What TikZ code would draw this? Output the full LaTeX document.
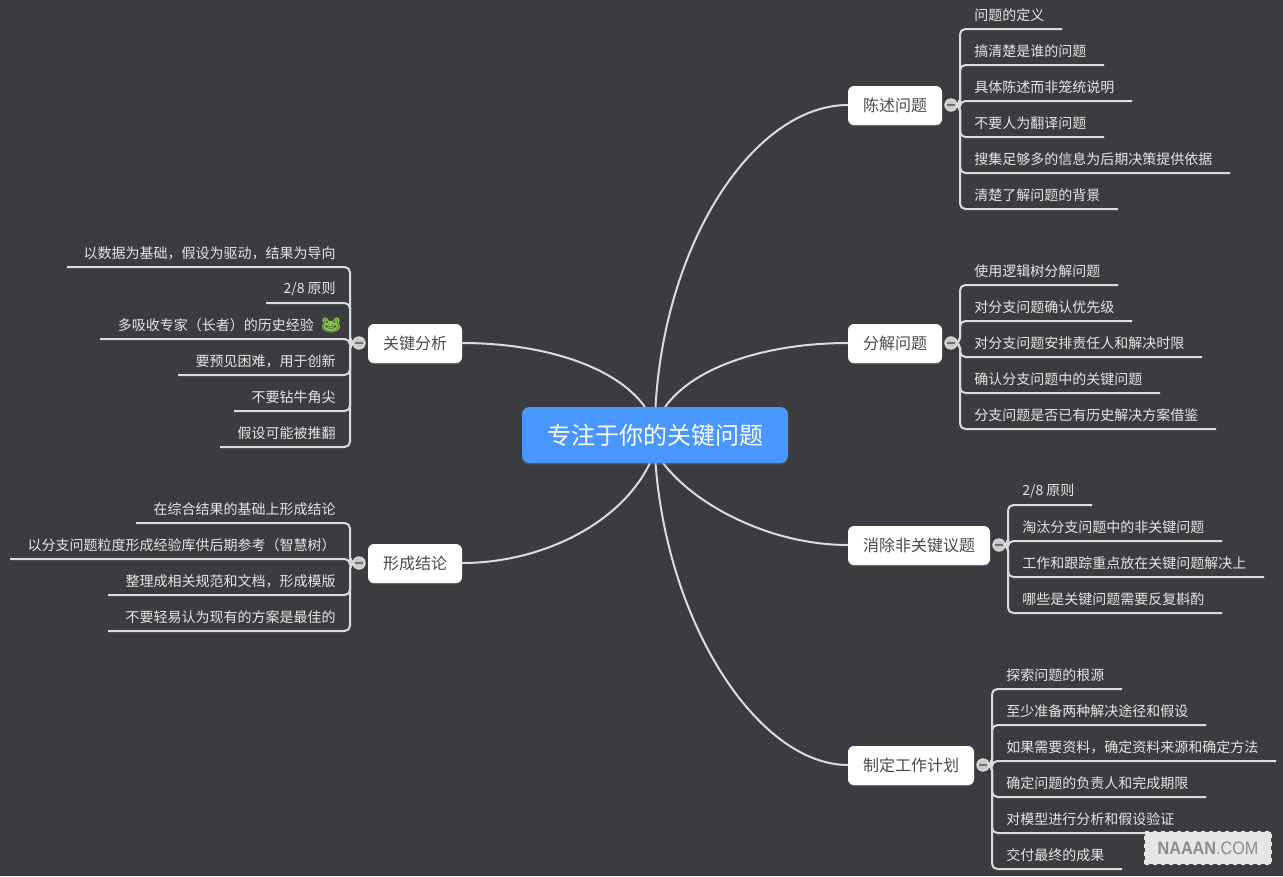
\documentclass[tikz,border=0pt]{standalone}
\usepackage{fontspec}
\setmainfont{Noto Sans CJK SC}
\newfontfamily\emojifont{Noto Emoji}
\newfontfamily\markfont{Liberation Sans}
\usetikzlibrary{shadows,calc}
\pgfdeclarelayer{hubs}
\pgfsetlayers{main,hubs}
\definecolor{bgcol}{HTML}{3A3C3F}
\definecolor{rootcol}{HTML}{4A96FF}
\definecolor{linkcol}{HTML}{DCDCDC}
\definecolor{leafcol}{HTML}{E6E6E6}
\definecolor{maincol}{HTML}{4A4A4A}
\definecolor{frogcol}{HTML}{8CC152}
\definecolor{frogdark}{HTML}{2F4A22}
\definecolor{hubfill}{HTML}{C9C9C9}
\definecolor{hubbar}{HTML}{707070}
\tikzset{
  x=0.75pt,y=-0.75pt,
  rootnode/.style={draw=none,fill=rootcol,rounded corners=5.6pt,minimum width=199.5pt,minimum height=42pt,text=white,font=\fontsize{18}{22}\selectfont,inner sep=0pt,drop shadow={shadow xshift=0pt,shadow yshift=-1.2pt,opacity=.35}},
  mainnode/.style={fill=white,rounded corners=4.5pt,minimum height=29.25pt,text=maincol,font=\fontsize{12}{15}\selectfont,inner sep=0pt,drop shadow={shadow xshift=0pt,shadow yshift=-1pt,opacity=.35}},
  hubnode/.style={circle,fill=hubfill,draw=linkcol,line width=1pt,minimum size=9pt,inner sep=0pt,font=\fontsize{1}{1}\selectfont},
  leafnode/.style={text=leafcol,inner sep=0pt,font=\fontsize{10.5}{13}\selectfont},
  twig/.style={draw=linkcol,line width=1.5pt,rounded corners=4pt},
  branch/.style={draw=linkcol,line width=1.5pt},
  markbox/.style={fill=leafcol,draw=white!80!gray,dashed,line width=.8pt,minimum width=94.5pt,minimum height=24pt,inner sep=0pt,text=black!45,font=\markfont\fontsize{13.5}{15}\selectfont}
}
\newcommand\hubbarmark{\textcolor{hubbar}{\rule[-.9pt]{5.5pt}{1.8pt}}}
% #1 name, #2 hub, #3 spine x, #4 underline y, #5 underline far end x, #6 text
\newcommand\leafR[6]{%
  \node[leafnode,anchor=west] (#1) at (#3+14,#4-14) {#6};
  \coordinate (#1s) at (#3,#4);
  \coordinate (#1e) at (#5,#4);
  \draw[twig] (#2.center) -- (#2.center -| #1s) -- (#1s) -- (#1e);
}
\newcommand\leafL[6]{%
  \node[leafnode,anchor=east] (#1) at (#3-14,#4-14) {#6};
  \coordinate (#1s) at (#3,#4);
  \coordinate (#1e) at (#5,#4);
  \draw[twig] (#2.center) -- (#2.center -| #1s) -- (#1s) -- (#1e);
}
\begin{document}
\begin{tikzpicture}
\useasboundingbox (0,0) rectangle (1283,876);
\fill[bgcol] (0,0) rectangle (1283,876);

% central and main topics
\coordinate (c1p) at (848,105);
\draw[branch] (655.5,407) coordinate (r1) .. controls (665,240) and (755,105) .. (c1p);
\coordinate (c2p) at (848,343);
\draw[branch] (665,407) coordinate (r2) .. controls (695,365) and (770,343) .. (c2p);
\coordinate (c3p) at (848,545);
\draw[branch] (663,463) coordinate (r3) .. controls (695,505) and (770,545) .. (c3p);
\coordinate (c4p) at (848,765);
\draw[branch] (655.5,463) coordinate (r4) .. controls (668,628) and (760,765) .. (c4p);
\coordinate (c5p) at (462,343);
\draw[branch] (645,407) coordinate (r5) .. controls (615,365) and (540,343) .. (c5p);
\coordinate (c6p) at (462,563);
\draw[branch] (650,463) coordinate (r6) .. controls (620,525) and (540,563) .. (c6p);

\node[rootnode] (root) at (655,435) {专注于你的关键问题};

\node[mainnode,minimum width=70.5pt] (m1) at (895,105.5) {陈述问题};
\node[mainnode,minimum width=70.5pt] (m2) at (895,343.5) {分解问题};
\node[mainnode,minimum width=106.5pt] (m3) at (919,545.5) {消除非关键议题};
\node[mainnode,minimum width=94.5pt] (m4) at (911,765.5) {制定工作计划};
\node[mainnode,minimum width=70.5pt] (m5) at (415,343.5) {关键分析};
\node[mainnode,minimum width=70.5pt] (m6) at (415,563.5) {形成结论};

\begin{pgfonlayer}{hubs}
\node[hubnode] (h1) at (951,105) {\hubbarmark};
\node[hubnode] (h2) at (951,343) {\hubbarmark};
\node[hubnode] (h3) at (999,545) {\hubbarmark};
\node[hubnode] (h4) at (983,765) {\hubbarmark};
\node[hubnode] (h5) at (359,343) {\hubbarmark};
\node[hubnode] (h6) at (359,563) {\hubbarmark};
\end{pgfonlayer}

\leafR{a1}{h1}{960}{29}{1062}{问题的定义}
\leafR{a2}{h1}{960}{65}{1104}{搞清楚是谁的问题}
\leafR{a3}{h1}{960}{101}{1132}{具体陈述而非笼统说明}
\leafR{a4}{h1}{960}{137}{1104}{不要人为翻译问题}
\leafR{a5}{h1}{960}{173}{1230}{搜集足够多的信息为后期决策提供依据}
\leafR{a6}{h1}{960}{209}{1118}{清楚了解问题的背景}

\leafR{b1}{h2}{960}{285}{1118}{使用逻辑树分解问题}
\leafR{b2}{h2}{960}{321}{1132}{对分支问题确认优先级}
\leafR{b3}{h2}{960}{357}{1202}{对分支问题安排责任人和解决时限}
\leafR{b4}{h2}{960}{393}{1160}{确认分支问题中的关键问题}
\leafR{b5}{h2}{960}{429}{1216}{分支问题是否已有历史解决方案借鉴}

\leafR{d1}{h3}{1008}{505}{1092}{2/8 原则}
\leafR{d2}{h3}{1008}{541}{1222}{淘汰分支问题中的非关键问题}
\leafR{d3}{h3}{1008}{577}{1264}{工作和跟踪重点放在关键问题解决上}
\leafR{d4}{h3}{1008}{613}{1222}{哪些是关键问题需要反复斟酌}

\leafR{e1}{h4}{992}{689}{1122}{探索问题的根源}
\leafR{e2}{h4}{992}{725}{1206}{至少准备两种解决途径和假设}
\leafR{e3}{h4}{992}{761}{1276}{如果需要资料，确定资料来源和确定方法}
\leafR{e4}{h4}{992}{797}{1206}{确定问题的负责人和完成期限}
\leafR{e5}{h4}{992}{833}{1188}{对模型进行分析和假设验证}
\leafR{e6}{h4}{992}{869}{1122}{交付最终的成果}

\leafL{f1}{h5}{350}{267}{67}{以数据为基础，假设为驱动，结果为导向}
\leafL{f2}{h5}{350}{303}{266}{2/8 原则}
% green body of the frog, under its glyph
\fill[frogcol] (331,326.5) ellipse [x radius=9, y radius=6];
\fill[frogcol] (325.5,320.5) circle [radius=3.2];
\fill[frogcol] (336.5,320.5) circle [radius=3.2];
\leafL{f3}{h5}{350}{339}{100}{多吸收专家（长者）的历史经验\kern 6pt{\emojifont\color{frogdark}🐸}\kern -3pt}
\leafL{f4}{h5}{350}{375}{178}{要预见困难，用于创新}
\leafL{f5}{h5}{350}{411}{234}{不要钻牛角尖}
\leafL{f6}{h5}{350}{447}{220}{假设可能被推翻}

\leafL{g1}{h6}{350}{523}{136}{在综合结果的基础上形成结论}
\leafL{g2}{h6}{350}{559}{10}{以分支问题粒度形成经验库供后期参考（智慧树）}
\leafL{g3}{h6}{350}{595}{108}{整理成相关规范和文档，形成模版}
\leafL{g4}{h6}{350}{631}{108}{不要轻易认为现有的方案是最佳的}

\node[markbox] (wm) at (1208,848) {\scalebox{.9}[1]{\textbf{NAAAN}.COM}};
\end{tikzpicture}
\end{document}
